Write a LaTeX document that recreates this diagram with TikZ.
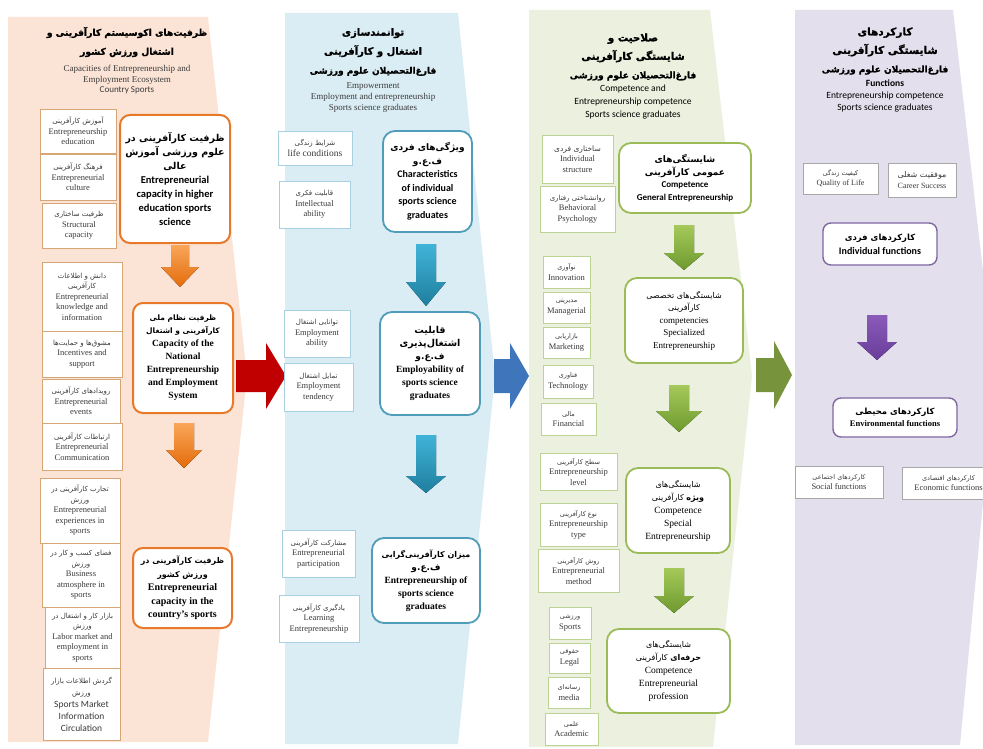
\documentclass[tikz,border=0pt]{standalone}
\usepackage{fontspec}
\setmainfont{Liberation Serif}
\newfontfamily\calfont{Carlito}
\newfontfamily\arfont[Script=Arabic]{DejaVu Sans}
\newfontfamily\arhead[Script=Arabic, BoldFeatures={FakeBold=1.3}]{DejaVu Sans}
\TeXXeTstate=1
\newcommand\arr[2][7]{{\arfont\fontsize{#1}{#1}\selectfont\beginR #2\endR}}
\newcommand\arbd[2][10]{{\arfont\bfseries\fontsize{#1}{#1}\selectfont\beginR #2\endR}}
\newcommand\mkbox[7]{%
  \pgfmathsetmacro\bxw{#5-#3}\pgfmathsetmacro\bxh{#6-#4}%
  \pgfmathsetmacro\bxcx{(#3+#5)/2}\pgfmathsetmacro\bxcy{(#4+#6)/2}%
  \node[#1, minimum width=\bxw pt, minimum height=\bxh pt] (#2) at (\bxcx,\bxcy) {#7};}
\newcommand\dnarr[7]{\fill[#7] ({#1-#5},#2) -- ({#1+#5},#2) -- ({#1+#5},#3) -- ({#1+#6},#3) -- (#1,#4) -- ({#1-#6},#3) -- ({#1-#5},#3) -- cycle;}
\newcommand\rtarr[7]{\fill[#7] (#2,{#1-#5}) -- (#3,{#1-#5}) -- (#3,{#1-#6}) -- (#4,#1) -- (#3,{#1+#6}) -- (#3,{#1+#5}) -- (#2,{#1+#5}) -- cycle;}
\definecolor{pnA}{HTML}{FBE4D5}
\definecolor{pnB}{HTML}{DAEDF4}
\definecolor{pnC}{HTML}{EBF1DE}
\definecolor{pnD}{HTML}{E4DFEC}
\definecolor{bdA}{HTML}{D6A676}
\definecolor{mbA}{HTML}{E8782A}
\definecolor{bdB}{HTML}{A9D0E0}
\definecolor{mbB}{HTML}{4F9DB8}
\definecolor{bdC}{HTML}{BDD395}
\definecolor{mbC}{HTML}{9BBB59}
\definecolor{bdD}{HTML}{A8A8A8}
\definecolor{mbD}{HTML}{7F68A0}
\definecolor{txt}{HTML}{3A3A3A}
\definecolor{arOt}{HTML}{F9A65A}
\definecolor{arOb}{HTML}{E46C0A}
\definecolor{arTt}{HTML}{40B4D8}
\definecolor{arTb}{HTML}{1F7E9E}
\definecolor{arGt}{HTML}{A5C95A}
\definecolor{arGb}{HTML}{6E9A2E}
\definecolor{arPt}{HTML}{8A5BB8}
\definecolor{arPb}{HTML}{6A3D9A}
\definecolor{bigR}{HTML}{C00000}
\definecolor{bigB}{HTML}{3F75BA}
\definecolor{bigG}{HTML}{77933C}
\tikzset{
  sA/.style={draw=bdA, fill=white, line width=0.9pt, inner sep=1pt, align=center, text=txt, font=\fontsize{8.5}{10.5}\selectfont},
  sB/.style={sA, draw=bdB},
  sC/.style={sA, draw=bdC},
  sD/.style={sA, draw=bdD, line width=0.7pt},
  mA/.style={draw=mbA, fill=white, line width=2pt, rounded corners=10pt, inner sep=2pt, align=center, text=black},
  mB/.style={mA, draw=mbB, line width=1.8pt, rounded corners=12pt},
  mC/.style={mA, draw=mbC, line width=1.8pt, rounded corners=12pt},
  mD/.style={mA, draw=mbD, line width=1.4pt, rounded corners=8pt},
  hdar/.style={align=center, text=black},
  hden/.style={align=center, text=txt},
  arO/.style={top color=arOt, bottom color=arOb},
  arT/.style={top color=arTt, bottom color=arTb},
  arG/.style={top color=arGt, bottom color=arGb},
  arP/.style={top color=arPt, bottom color=arPb}
}
\begin{document}
\begin{tikzpicture}[x=1pt,y=-1pt]
\useasboundingbox (0,0) rectangle (983,749);
\fill[white] (0,0) rectangle (983,749);
% panels
\fill[pnA] (8,17) -- (208,17) -- (247,376) -- (208,742) -- (8,742) -- cycle;
\fill[pnB] (285,13) -- (458,13) -- (495,376) -- (458,744) -- (285,744) -- cycle;
\fill[pnC] (529,10) -- (710,10) -- (752,376) -- (713,747) -- (529,747) -- cycle;
\fill[pnD] (795,10) -- (953,10) -- (995,376) -- (960,745) -- (795,745) -- cycle;
% big arrows
\rtarr{376}{236}{266}{286}{16}{33}{bigR}
\rtarr{376}{494}{510}{529}{17}{33}{bigB}
\rtarr{375}{756}{774}{792}{17}{34}{bigG}
% headers
\node[hdar, font=\arhead\bfseries\fontsize{9.2}{19}\selectfont] (h1a) at (127,42) {\beginR ظرفیت‌های اکوسیستم کارآفرینی و\endR\\\beginR اشتغال ورزش کشور\endR};
\node[hden, font=\fontsize{9}{10.5}\selectfont] (h1e) at (127,80) {Capacities of Entrepreneurship and\\Employment Ecosystem\\{\calfont Country Sports}};
\node[hdar, font=\arhead\bfseries\fontsize{10}{19}\selectfont] (h2a) at (373,52) {\beginR توانمندسازی\endR\\\beginR اشتغال و کارآفرینی\endR\\{\fontsize{9}{9}\selectfont\beginR فارغ‌التحصیلان علوم ورزشی\endR}};
\node[hden, font=\fontsize{9}{11}\selectfont] (h2e) at (373,98) {Empowerment\\Employment and entrepreneurship\\Sports science graduates};
\node[hdar, font=\arhead\bfseries\fontsize{10.3}{18.5}\selectfont] (h3a) at (633,57) {\beginR صلاحیت و\endR\\\beginR شایستگی کارآفرینی\endR\\{\fontsize{9}{9}\selectfont\beginR فارغ‌التحصیلان علوم ورزشی\endR}};
\node[hdar, font=\calfont\fontsize{9.5}{13}\selectfont] (h3e) at (633,102) {Competence and\\Entrepreneurship competence\\Sports science graduates};
\node[hdar, font=\arhead\bfseries\fontsize{10.5}{18.5}\selectfont] (h4a) at (885,51) {\beginR کارکردهای\endR\\\beginR شایستگی کارآفرینی\endR\\{\fontsize{9}{9}\selectfont\beginR فارغ‌التحصیلان علوم ورزشی\endR}};
\node[hdar, font=\calfont\fontsize{9.5}{12}\selectfont] (h4e) at (885,96) {\textbf{Functions}\\Entrepreneurship competence\\Sports science graduates};
% panel 1 small boxes
\mkbox{sA}{a1}{40}{109}{116}{153}{\arr{آموزش کارآفرینی}\\Entrepreneurship\\education}
\mkbox{sA}{a2}{40}{154}{116}{200}{\arr{فرهنگ کارآفرینی}\\Entrepreneurial\\culture}
\mkbox{sA}{a3}{42}{203}{116}{248}{\arr{ظرفیت ساختاری}\\Structural\\capacity}
\mkbox{sA}{a4}{42}{262}{122}{331}{\arr{دانش و اطلاعات}\\\arr{کارآفرینی}\\Entrepreneurial\\knowledge and\\information}
\mkbox{sA}{a5}{42}{331}{122}{377}{\arr{مشوق‌ها و حمایت‌ها}\\Incentives and\\support}
\mkbox{sA}{a6}{42}{379}{120}{423}{\arr{رویدادهای کارآفرینی}\\Entrepreneurial\\events}
\mkbox{sA}{a7}{42}{423}{122}{470}{\arr{ارتباطات کارآفرینی}\\Entrepreneurial\\Communication}
\mkbox{sA}{a8}{40}{478}{120}{543}{\arr{تجارب کارآفرینی در}\\\arr{ورزش}\\Entrepreneurial\\experiences in\\sports}
\mkbox{sA}{a9}{42}{543}{120}{607}{\arr{فضای کسب و کار در}\\\arr{ورزش}\\Business\\atmosphere in\\sports}
\mkbox{sA}{a10}{45}{607}{120}{668}{\arr{بازار کار و اشتغال در}\\\arr{ورزش}\\Labor market and\\employment in\\sports}
\mkbox{sA, font=\calfont\fontsize{9.5}{12}\selectfont}{a11}{43}{668}{120}{740}{\arr{گردش اطلاعات بازار}\\\arr{ورزش}\\Sports Market\\Information\\Circulation}
% panel 1 main boxes
\mkbox{mA, font=\calfont\bfseries\fontsize{10.5}{14}\selectfont}{m1}{120}{115}{230}{243}{\arbd[9.5]{ظرفیت کارآفرینی در}\\\arbd[9.5]{علوم ورزشی آموزش}\\\arbd[9.5]{عالی}\\Entrepreneurial\\capacity in higher\\education sports\\science}
\mkbox{mA, font=\bfseries\fontsize{9.5}{13}\selectfont}{m2}{133}{303}{233}{413}{\arr[7.5]{ظرفیت نظام ملی}\\\arr[7.5]{کارآفرینی و اشتغال}\\Capacity of the\\National\\Entrepreneurship\\and Employment\\System}
\mkbox{mA, font=\bfseries\fontsize{10}{13.5}\selectfont}{m3}{133}{548}{232}{628}{\arr[8]{ظرفیت کارآفرینی در}\\\arr[8]{ورزش کشور}\\Entrepreneurial\\capacity in the\\country's sports}
% panel 2 small boxes
\mkbox{sB}{b1}{278}{131}{352}{165}{\arr{شرایط زندگی}\\{\fontsize{9.5}{11}\selectfont life conditions}}
\mkbox{sB}{b2}{279}{181}{350}{228}{\arr{قابلیت فکری}\\Intellectual\\ability}
\mkbox{sB}{b3}{284}{310}{350}{357}{\arr{توانایی اشتغال}\\Employment\\ability}
\mkbox{sB}{b4}{284}{363}{353}{411}{\arr{تمایل اشتغال}\\Employment\\tendency}
\mkbox{sB}{b5}{282}{530}{355}{577}{\arr{مشارکت کارآفرینی}\\Entrepreneurial\\participation}
\mkbox{sB}{b6}{279}{595}{359}{642}{\arr{یادگیری کارآفرینی}\\Learning\\Entrepreneurship}
% panel 2 main boxes
\mkbox{mB, font=\calfont\bfseries\fontsize{10}{13.5}\selectfont}{n1}{383}{131}{472}{232}{\arbd[9]{ویژگی‌های فردی}\\\arbd[9]{ف.ع.و}\\Characteristics\\of individual\\sports science\\graduates}
\mkbox{mB, font=\bfseries\fontsize{9.5}{13}\selectfont}{n2}{380}{312}{480}{415}{\arbd[9.5]{قابلیت}\\\arbd[9.5]{اشتغال‌پذیری}\\\arbd[9]{ف.ع.و}\\Employability of\\sports science\\graduates}
\mkbox{mB, font=\bfseries\fontsize{9.5}{13}\selectfont}{n3}{372}{538}{480}{623}{\arbd[8]{میزان کارآفرینی‌گرایی}\\\arbd[9]{ف.ع.و}\\Entrepreneurship of\\sports science\\graduates}
% panel 3 small boxes
\mkbox{sC}{c1}{542}{135}{613}{183}{\arr[7.5]{ساختاری فردی}\\Individual\\structure}
\mkbox{sC}{c2}{540}{186}{615}{232}{\arr{روانشناختی رفتاری}\\Behavioral\\Psychology}
\mkbox{sC}{c3}{543}{256}{590}{288}{\arr[6.5]{نوآوری}\\Innovation}
\mkbox{sC}{c4}{543}{292}{590}{323}{\arr[6.5]{مدیریتی}\\Managerial}
\mkbox{sC}{c5}{543}{327}{590}{358}{\arr[6.5]{بازاریابی}\\Marketing}
\mkbox{sC}{c6}{543}{365}{593}{398}{\arr[6.5]{فناوری}\\Technology}
\mkbox{sC}{c7}{541}{403}{596}{435}{\arr[6.5]{مالی}\\Financial}
\mkbox{sC}{c8}{540}{453}{617}{490}{\arr[6.5]{سطح کارآفرینی}\\Entrepreneurship\\level}
\mkbox{sC}{c9}{540}{503}{617}{546}{\arr[6.5]{نوع کارآفرینی}\\Entrepreneurship\\type}
\mkbox{sC}{c10}{538}{549}{619}{592}{\arr[6.5]{روش کارآفرینی}\\Entrepreneurial\\method}
\mkbox{sC}{c11}{549}{607}{591}{639}{\arr[6.5]{ورزشی}\\Sports}
\mkbox{sC}{c12}{549}{643}{590}{673}{\arr[6.5]{حقوقی}\\Legal}
\mkbox{sC}{c13}{548}{677}{590}{708}{\arr[6.5]{رسانه‌ای}\\media}
\mkbox{sC}{c14}{545}{713}{598}{745}{\arr[6.5]{علمی}\\Academic}
% panel 3 main boxes
\mkbox{mC, font=\calfont\bfseries\fontsize{9}{12.5}\selectfont}{g1}{619}{143}{751}{213}{\arr[9]{شایستگی‌های}\\\arr[9]{عمومی کارآفرینی}\\Competence\\General Entrepreneurship}
\mkbox{mC, font=\fontsize{9}{12.5}\selectfont}{g2}{625}{278}{743}{363}{\arr[8]{شایستگی‌های تخصصی}\\\arr[8]{کارآفرینی}\\competencies\\Specialized\\Entrepreneurship}
\mkbox{mC, font=\fontsize{9.5}{13}\selectfont}{g3}{626}{468}{730}{553}{\arr[8]{شایستگی‌های}\\\arr[8]{\textbf{ویژه} کارآفرینی}\\Competence\\Special\\Entrepreneurship}
\mkbox{mC, font=\fontsize{9.5}{13}\selectfont}{g4}{607}{629}{730}{713}{\arr[8]{شایستگی‌های}\\\arr[8]{\textbf{حرفه‌ای} کارآفرینی}\\Competence\\Entrepreneurial\\profession}
% panel 4 boxes
\mkbox{sD, font=\fontsize{8}{10.5}\selectfont}{d1}{803}{163}{878}{194}{\arr[6.5]{کیفیت زندگی}\\Quality of Life}
\mkbox{sD, font=\fontsize{8}{10.5}\selectfont}{d2}{888}{163}{956}{197}{\arr[8]{موفقیت شغلی}\\Career Success}
\mkbox{mD, font=\calfont\bfseries\fontsize{10}{14}\selectfont}{f1}{823}{223}{937}{265}{\arbd[8.5]{کارکردهای فردی}\\Individual functions}
\mkbox{mD, font=\bfseries\fontsize{8.5}{12}\selectfont}{f2}{833}{398}{957}{437}{\arbd[8.5]{کارکردهای محیطی}\\Environmental functions}
\mkbox{sD, font=\fontsize{8.5}{10.5}\selectfont}{d3}{795}{466}{883}{498}{\arr[6.5]{کارکردهای اجتماعی}\\Social functions}
\mkbox{sD, font=\fontsize{8.5}{10.5}\selectfont}{d4}{902}{467}{995}{499}{\arr[6.5]{کارکردهای اقتصادی}\\Economic functions}
% down arrows
\dnarr{180}{245}{267}{287}{9}{19}{arO}
\dnarr{184}{423}{450}{468}{10}{18}{arO}
\dnarr{426}{244}{282}{306}{10}{20}{arT}
\dnarr{426}{435}{476}{493}{10}{20}{arT}
\dnarr{684}{225}{253}{270}{10}{20}{arG}
\dnarr{679}{385}{411}{432}{10}{23}{arG}
\dnarr{674}{568}{596}{613}{10}{20}{arG}
\dnarr{877}{315}{342}{360}{10}{20}{arP}
\end{tikzpicture}
\end{document}
